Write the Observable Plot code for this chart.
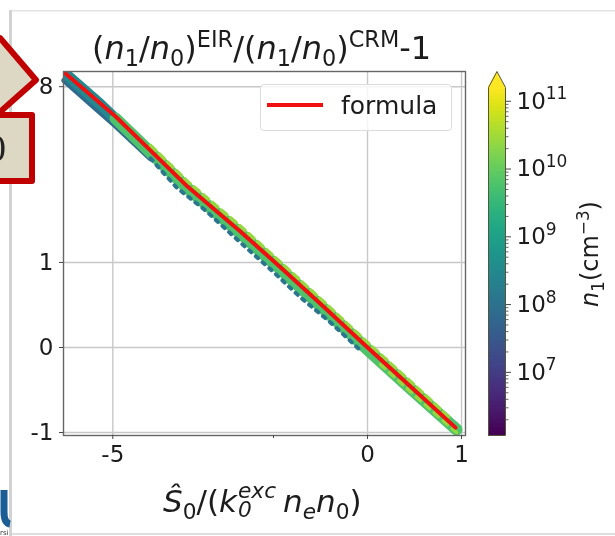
<!DOCTYPE html>
<html><head><meta charset="utf-8">
<script src="https://cdn.jsdelivr.net/npm/d3@7"></script>
<script src="https://cdn.jsdelivr.net/npm/@observablehq/plot@0.6"></script>
<style>
html,body{margin:0;padding:0;background:#fff;overflow:hidden}
#page{position:relative;width:615px;height:536px;overflow:hidden;font-family:"DejaVu Sans",sans-serif;color:#1c1c1c;filter:blur(.7px)}
#page>svg,#page>figure,#page>div{position:absolute;margin:0}
.tx{white-space:nowrap;line-height:1}
.tx i{font-style:italic}
.tx sup,.tx sub{font-size:70%;line-height:0}
.stack{display:inline-block;vertical-align:baseline;position:relative;height:1em;margin-left:1px}
.stack span{position:absolute;left:0;font-size:70%;font-style:italic}
</style></head><body><div id="page"></div>
<script>
// Data
const xTicks = [-5, 0, 1];
const xMinorTicks = [-1];
const yTicks = [-1, 0, 1, 8];
const cbarTicks = [1e7, 1e8, 1e9, 1e10, 1e11];
const cbarMinor = [2e6,3e6,4e6,5e6,6e6,7e6,8e6,9e6,2e7,3e7,4e7,5e7,6e7,7e7,8e7,9e7,2e8,3e8,4e8,5e8,6e8,7e8,8e8,9e8,2e9,3e9,4e9,5e9,6e9,7e9,8e9,9e9,2e10,3e10,4e10,5e10,6e10,7e10,8e10,9e10];
const formulaX = [-7.21, -4.89, -2.63, -1.52, -0.90, -0.373, 0, 0.383, 0.916];
const formulaY = [9.10, 5.95, 2.80, 1.59, 0.918, 0.368, 0, -0.368, -0.92];
const blueX = [-7.27, -5.96, -4.89, -3.66];
const blueY = [8.50, 6.78, 5.43, 3.84];
const lowX = [-3.66, -2.91, -2.21, -1.52, -1.04, -0.648, -0.323, -0.055];
const lowY = [3.84, 2.77, 2.10, 1.36, 0.886, 0.497, 0.221, -0.024];
const tealX = [-7.05, -5.51, -4.51];
const tealY = [8.84, 6.71, 5.27];
const midX = [-4.89, -3.66, -2.63, -1.52, -0.90, -0.373, 0, 0.383, 0.93];
const midY = [5.83, 4.10, 2.74, 1.55, 0.886, 0.346, -0.016, -0.39, -0.95];
const highX = [-3.66, -2.63, -1.52, -0.90, -0.373, 0, 0.383, 0.85];
const highY = [4.41, 2.97, 1.71, 1.0, 0.425, 0.04, -0.313, -0.78];
const lowerRimX = [0.105, 0.488, 0.93];
const lowerRimY = [-0.145, -0.534, -1.0];
const lowN1 = 1.2e8, blueN1 = 7e7, tealN1 = 3e8, midN1 = 6e9, highN1 = 2.5e10;
const cbarMin = 1.17e6, cbarMax = 1.6e11, cbarTip = 2.75e11;
const cbarExp = d3.range(6.068, 11.2, 0.02);

const colorOpt = {type:"log", scheme:"viridis", domain:[cbarMin, cbarMax]};
const W = 615, H = 536;
const seq = (xs, ys) => xs.map((x,i)=>({x, y:ys[i]}));
const page = document.getElementById("page");

const band = (xs, ys, n1, w, dash) => Plot.line(seq(xs,ys), {x:"x", y:"y", stroke:()=>n1, strokeWidth:w, strokeLinecap:"round", strokeLinejoin:"round", curve:"linear", strokeDasharray:dash});

const chart = Plot.plot({
  width:W, height:H, marginLeft:63, marginRight:150, marginTop:71, marginBottom:101,
  style:{background:"transparent", fontFamily:"DejaVu Sans", fontSize:"23px", color:"#1c1c1c", overflow:"visible"},
  x:{type:"symlog", constant:1.2, domain:[-7.32,1.057]},
  y:{type:"symlog", constant:0.9, domain:[-1.05,9.27]},
  color:colorOpt,
  marks:[
    Plot.gridX(xTicks,{stroke:"#c8c8c8", strokeOpacity:1, strokeWidth:1.4}),
    Plot.gridY(yTicks,{stroke:"#c8c8c8", strokeOpacity:1, strokeWidth:1.4}),
    band(blueX, blueY, blueN1, 6),
    band(tealX, tealY, tealN1, 11),
    band(midX, midY, midN1, 12),
    band(lowX, lowY, lowN1, 4, "3 6"),
    band(highX, highY, highN1, 3.5, "7 5"),
    band(lowerRimX, lowerRimY, highN1, 3.5, "6 6"),
    Plot.line(seq(formulaX,formulaY),{x:"x",y:"y",stroke:"#f01010",strokeWidth:4}),
    Plot.frame({stroke:"#666",strokeWidth:1.4}),
    Plot.axisX({ticks:xTicks,tickSize:4,tickPadding:6,label:null,stroke:"#444",tickFormat:d=>String(d)}),
    Plot.axisX({ticks:xMinorTicks,tickSize:3,tickFormat:()=>"",label:null,stroke:"#444"}),
    Plot.axisY({ticks:yTicks,tickSize:4,tickPadding:6,label:null,stroke:"#444",tickFormat:d=>String(d)})
  ]
});
chart.style.cssText += ";left:0;top:0;position:absolute";
page.appendChild(chart);

const cbar = Plot.plot({
  width:W, height:H, marginLeft:488, marginRight:110, marginTop:71, marginBottom:101,
  style:{background:"transparent", fontFamily:"DejaVu Sans", fontSize:"23px", color:"#1c1c1c", overflow:"visible"},
  x:{domain:[0,1], axis:null},
  y:{type:"log", domain:[cbarMin, cbarTip]},
  color:colorOpt,
  marks:[
    Plot.rectY(cbarExp,{x1:0,x2:1,y1:e=>10**e,y2:e=>10**(e+0.025),fill:e=>10**e,shapeRendering:"crispEdges"}),
    Plot.areaY([0,0.5,1],{x:d=>d,y1:cbarMax,y2:d=>d===0.5?cbarTip:cbarMax,fill:"#fde725"}),
    Plot.line([[0,cbarMin],[0,cbarMax],[0.5,cbarTip],[1,cbarMax],[1,cbarMin],[0,cbarMin]],{x:"0",y:"1",stroke:"#55553c",strokeWidth:1}),
    Plot.axisY({anchor:"right",ticks:cbarTicks,tickSize:5,tickPadding:6,label:null,stroke:"#444",tickFormat:d=>"10|"+Math.round(Math.log10(d))}),
    Plot.axisY({anchor:"right",ticks:cbarMinor,tickSize:2.5,tickFormat:()=>"",label:null,stroke:"#666"})
  ]
});
cbar.style.cssText += ";left:0;top:0;position:absolute";
page.appendChild(cbar);
// raised exponents for the colour bar labels
d3.select(cbar).selectAll("text").each(function(){
  const t=this.textContent;
  if(!t.includes("|")) return;
  const [b,e]=t.split("|");
  this.textContent=b;
  d3.select(this).append("tspan").attr("font-size","17px").attr("dy","-0.55em").text(e);
});

const html=(s,css)=>{const d=document.createElement("div");d.className="tx";d.innerHTML=s;d.style.cssText=css;page.appendChild(d);return d;};
html('(<i>n</i><sub>1</sub>/<i>n</i><sub>0</sub>)<sup>EIR</sup>/(<i>n</i><sub>1</sub>/<i>n</i><sub>0</sub>)<sup>CRM</sup>-1','left:92px;top:32px;font-size:32px;');
html('<i>Ŝ</i><sub>0</sub>/(<i>k</i><span class="stack" style="width:45px"><span style="bottom:10px">exc</span><span style="bottom:-9px">0</span></span><i>n</i><sub style="font-style:italic">e</sub><i>n</i><sub>0</sub>)','left:163px;top:481px;font-size:31px;');
html('<i>n</i><sub>1</sub>(cm<sup>−3</sup>)','left:590px;top:254px;font-size:24px;transform:translate(-50%,-50%) rotate(-90deg);');

// legend box
const lg=document.createElement("div");
lg.style.cssText="left:260px;top:84px;width:190px;height:45px;background:rgba(255,255,255,.82);border:1.4px solid #dcdcdc;border-radius:4px;";
page.appendChild(lg);
const ll=document.createElement("div");
ll.style.cssText="left:267px;top:103px;width:56px;height:4px;background:#f01010;";
page.appendChild(ll);
html('formula','left:341px;top:93px;font-size:25px;');

// slide surroundings
const NS="http://www.w3.org/2000/svg";
const deco=document.createElementNS(NS,"svg");
deco.setAttribute("width",W);deco.setAttribute("height",H);
deco.style.cssText="left:0;top:0;";
deco.innerHTML=`
<rect x="10" y="10" width="605" height="1.5" fill="#e4e4e4"/>
<rect x="10" y="533" width="605" height="2" fill="#dedede"/>
<rect x="9" y="10" width="3" height="526" fill="#d2d2d2"/>
<path d="M-30,38 L0,38 L36,80 L0,112 L-30,112 Z" fill="#ddd8c4" stroke="#c00000" stroke-width="6" stroke-linejoin="round"/>
<rect x="-30" y="115" width="62" height="66" fill="#ddd8c4" stroke="#c00000" stroke-width="6" stroke-linejoin="round"/>
<text x="-13" y="161" font-family="Liberation Serif,serif" font-size="38" fill="#222">0</text>
<path d="M4,490 L4,512 Q4,523 10,524" fill="none" stroke="#1b5e96" stroke-width="7"/>
<text x="0" y="535" font-family="DejaVu Sans" font-size="7" fill="#333">rsi</text>`;
page.appendChild(deco);
</script></body></html>
